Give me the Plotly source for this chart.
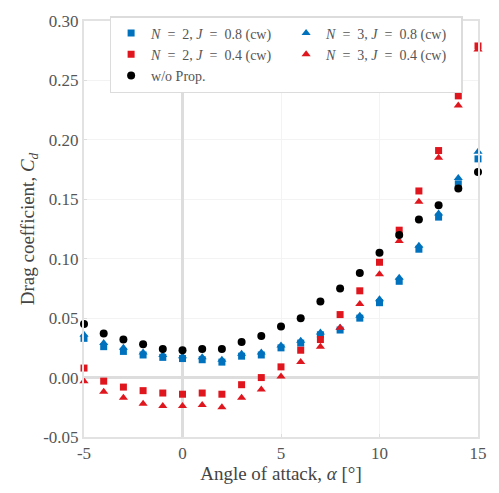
import plotly.graph_objects as go

alpha = list(range(-5, 16))

cd_n2_j08 = [0.033, 0.026, 0.022, 0.019, 0.017, 0.016, 0.015, 0.013, 0.018, 0.019, 0.025,
             0.029, 0.036, 0.040, 0.050, 0.063, 0.081, 0.108, 0.135, 0.163, 0.184]
cd_n3_j08 = [0.036, 0.029, 0.025, 0.021, 0.019, 0.018, 0.017, 0.015, 0.020, 0.021, 0.027,
             0.031, 0.038, 0.042, 0.052, 0.066, 0.084, 0.111, 0.138, 0.168, 0.190]
cd_n2_j04 = [0.008, -0.003, -0.008, -0.011, -0.013, -0.014, -0.013, -0.014, -0.006, 0.000, 0.009,
             0.023, 0.032, 0.053, 0.073, 0.097, 0.124, 0.157, 0.191, 0.237, 0.279]
cd_n3_j04 = [-0.003, -0.012, -0.017, -0.022, -0.024, -0.024, -0.023, -0.025, -0.017, -0.010, 0.001,
             0.013, 0.026, 0.042, 0.062, 0.087, 0.115, 0.148, 0.185, 0.229, 0.276]
cd_noprop = [0.045, 0.037, 0.032, 0.028, 0.024, 0.023, 0.024, 0.024, 0.030, 0.035, 0.043,
             0.050, 0.064, 0.075, 0.088, 0.105, 0.120, 0.133, 0.145, 0.159, 0.173]

S = "\u00a0"
names = [f"<i>N</i>{S}{S}={S}{S}2, <i>J</i>{S}{S}={S}{S}0.8{S}(cw)",
         f"<i>N</i>{S}{S}={S}{S}3, <i>J</i>{S}{S}={S}{S}0.8{S}(cw)",
         f"<i>N</i>{S}{S}={S}{S}2, <i>J</i>{S}{S}={S}{S}0.4{S}(cw)",
         f"<i>N</i>{S}{S}={S}{S}3, <i>J</i>{S}{S}={S}{S}0.4{S}(cw)",
         "w/o Prop."]

BLUE = "#0072BD"
RED = "#E0161E"
BLACK = "#000000"

series = [
    (cd_n2_j08, names[0], BLUE, "square", 7),
    (cd_n3_j08, names[1], BLUE, "triangle-up", 8),
    (cd_n2_j04, names[2], RED, "square", 7),
    (cd_n3_j04, names[3], RED, "triangle-up", 8),
    (cd_noprop, names[4], BLACK, "circle", 8),
]

fig = go.Figure()
for ys, nm, col, sym, sz in series:
    fig.add_trace(go.Scatter(
        x=alpha, y=ys, mode="markers", name=nm, cliponaxis=False,
        marker=dict(color=col, symbol=sym, size=sz, line=dict(width=0)),
    ))

FF = "Liberation Serif"

fig.update_layout(
    width=499, height=493,
    margin=dict(l=84, r=13, t=13, b=54),
    paper_bgcolor="white", plot_bgcolor="white",
    font=dict(family=FF, color="#444", size=16),
    showlegend=True,
    legend=dict(
        orientation="h", x=0.065, y=1.012, xanchor="left", yanchor="top",
        entrywidth=130, entrywidthmode="pixels",
        bgcolor="white", bordercolor="#dcdcdc", borderwidth=1.5,
        font=dict(family=FF, size=14, color="#555"), tracegroupgap=0,
        itemsizing="trace", itemwidth=30,
    ),
    xaxis=dict(
        range=[-5, 15], tickvals=[-5, 0, 5, 10, 15], ticktext=["-5", "0", "5", "10", "15"],
        showgrid=True, gridcolor="#f3f3f3", gridwidth=1,
        zeroline=True, zerolinecolor="#dddddd", zerolinewidth=3,
        showline=True, linecolor="#e2e2e2", linewidth=2, mirror=True,
        ticks="inside", ticklen=3, tickcolor="#dddddd",
        tickfont=dict(family=FF, size=17, color="#555"),
        title=dict(text="Angle of attack, <i>α</i> [°]", font=dict(family=FF, size=19, color="#444"), standoff=4),
    ),
    yaxis=dict(
        range=[-0.05, 0.30], tickvals=[-0.05, 0, 0.05, 0.10, 0.15, 0.20, 0.25, 0.30],
        ticktext=["-0.05", "0.00", "0.05", "0.10", "0.15", "0.20", "0.25", "0.30"],
        showgrid=True, gridcolor="#f3f3f3", gridwidth=1,
        zeroline=True, zerolinecolor="#dddddd", zerolinewidth=3,
        showline=True, linecolor="#e2e2e2", linewidth=2, mirror=True,
        ticks="inside", ticklen=3, tickcolor="#dddddd",
        tickfont=dict(family=FF, size=17, color="#555"),
        title=dict(text="Drag coefficient, <i>C</i><sub><i>d</i></sub>", font=dict(family=FF, size=19, color="#444"), standoff=4),
    ),
)

fig.write_html("out.html")
